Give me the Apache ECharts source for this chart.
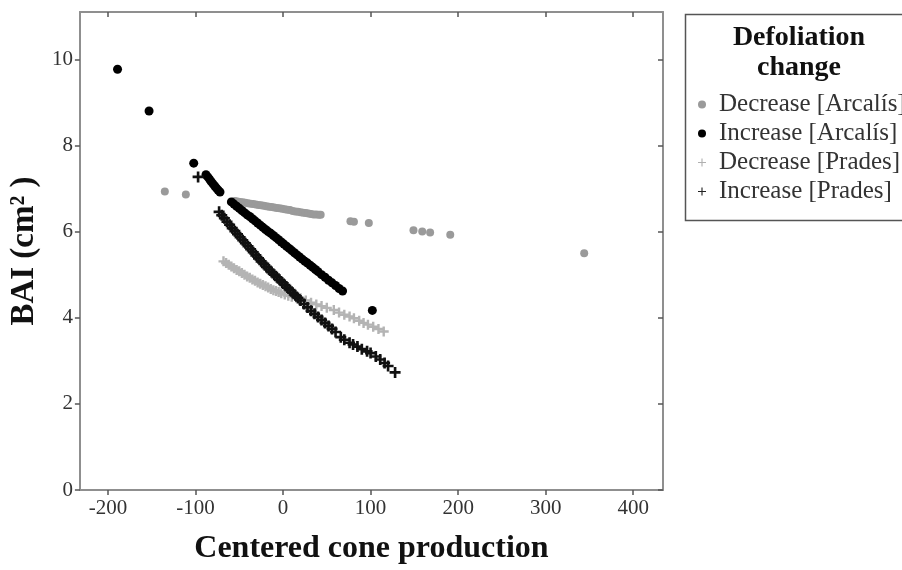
<!DOCTYPE html>
<html>
<head>
<meta charset="utf-8">
<script src="https://cdn.jsdelivr.net/npm/echarts@6/dist/echarts.min.js"></script>
<style>
  html, body { margin: 0; padding: 0; background: #fff; }
  #chart { width: 902px; height: 570px; }
</style>
</head>
<body>
<div id="chart"></div>
<script>
// Basal area increment against centered cone production, by defoliation change and site

const xTicks = [-200, -100, 0, 100, 200, 300, 400];
const yTicks = [0, 2, 4, 6, 8, 10];

const seriesNames = [
  'Decrease [Arcalís]',
  'Increase [Arcalís]',
  'Decrease [Prades]',
  'Increase [Prades]'
];

// [centered cone production, BAI]
const decreaseArcalis = [
  [-135, 6.93], [-111, 6.86],
  [-55, 6.71], [-52, 6.70], [-49, 6.69], [-46, 6.68], [-43, 6.67], [-40, 6.66],
  [-37, 6.65], [-34, 6.64], [-31, 6.63], [-28, 6.62], [-25, 6.61], [-22, 6.60],
  [-19, 6.59], [-16, 6.58], [-13, 6.57], [-10, 6.56], [-7, 6.55], [-4, 6.54],
  [-1, 6.53], [2, 6.52], [5, 6.51], [8, 6.50], [11, 6.48], [14, 6.47],
  [17, 6.46], [20, 6.45], [23, 6.44], [26, 6.43], [29, 6.42], [32, 6.41],
  [35, 6.40], [38, 6.40], [41, 6.39], [43, 6.39],
  [77, 6.24], [81, 6.23], [98, 6.20],
  [149, 6.03], [159, 6.00], [168, 5.98], [191, 5.93],
  [344, 5.50]
];

const increaseArcalis = [
  [-189, 9.77], [-153, 8.80], [-102, 7.59],
  [-88, 7.32], [-86, 7.27], [-84, 7.22], [-82, 7.16], [-80, 7.11],
  [-78, 7.06], [-76, 7.01], [-74, 6.96], [-72, 6.92],
  [-59, 6.69], [-56, 6.64], [-53, 6.59], [-50, 6.54], [-47, 6.49], [-44, 6.44],
  [-41, 6.39], [-38, 6.35], [-35, 6.30], [-32, 6.25], [-29, 6.20], [-26, 6.15],
  [-23, 6.10], [-20, 6.05], [-17, 6.00], [-14, 5.96], [-11, 5.91], [-8, 5.86],
  [-5, 5.81], [-2, 5.76], [1, 5.71], [4, 5.66], [7, 5.61], [10, 5.56],
  [13, 5.51], [16, 5.46], [19, 5.41], [22, 5.36], [25, 5.31], [28, 5.27],
  [31, 5.22], [34, 5.17], [37, 5.12], [40, 5.07], [44, 5.00], [48, 4.94],
  [52, 4.87], [56, 4.81], [60, 4.75], [64, 4.68], [68, 4.62],
  [102, 4.17]
];

const decreasePrades = [
  [-68, 5.31], [-65, 5.27], [-62, 5.23], [-59, 5.19], [-56, 5.15], [-53, 5.11],
  [-50, 5.08], [-47, 5.04], [-44, 5.00], [-41, 4.96], [-38, 4.93], [-35, 4.89],
  [-32, 4.86], [-29, 4.82], [-26, 4.79], [-23, 4.76], [-20, 4.73], [-17, 4.70],
  [-14, 4.67], [-11, 4.64], [-8, 4.62], [-5, 4.60], [-2, 4.57], [2, 4.54],
  [6, 4.51], [10, 4.49], [15, 4.47], [20, 4.45], [26, 4.40], [32, 4.35],
  [38, 4.31], [44, 4.27], [50, 4.23], [58, 4.18], [64, 4.12], [70, 4.07],
  [76, 4.03], [81, 3.99], [87, 3.93], [92, 3.88], [97, 3.84], [103, 3.79],
  [109, 3.74], [115, 3.68]
];

const increasePrades = [
  [-97, 7.27],
  [-73, 6.46], [-70, 6.38], [-67, 6.31], [-64, 6.23], [-61, 6.16], [-58, 6.08],
  [-55, 6.01], [-52, 5.94], [-49, 5.87], [-46, 5.80], [-43, 5.73], [-40, 5.66],
  [-37, 5.59], [-34, 5.52], [-31, 5.45], [-28, 5.38], [-25, 5.31], [-22, 5.25],
  [-19, 5.18], [-16, 5.12], [-13, 5.06], [-10, 5.00], [-7, 4.94], [-4, 4.88],
  [-1, 4.82], [2, 4.76], [5, 4.70], [8, 4.64], [11, 4.58], [14, 4.52],
  [17, 4.46], [20, 4.40], [24, 4.32], [28, 4.24], [32, 4.16], [36, 4.09],
  [40, 4.02], [44, 3.95], [48, 3.88], [52, 3.81], [56, 3.74], [60, 3.67],
  [66, 3.55], [70, 3.49], [76, 3.42], [80, 3.38], [85, 3.33], [90, 3.27],
  [96, 3.22], [100, 3.18], [106, 3.10], [111, 3.03], [116, 2.95], [120, 2.88],
  [128, 2.73]
];

// plus-shaped markers for the Prades series (heavier one in the plot, lighter one in the legend)
const PLUS = 'path://M3.8,0H6.2V3.8H10V6.2H6.2V10H3.8V6.2H0V3.8H3.8Z';
const PLUS_THIN = 'path://M4.3,0H5.7V4.3H10V5.7H5.7V10H4.3V5.7H0V4.3H4.3Z';
const SERIF = '"Liberation Serif", "DejaVu Serif", serif';
const X_MIN = -232, X_MAX = 434, Y_MIN = 0, Y_MAX = 11.1;

function axisLine() {
  return { show: true, onZero: false, lineStyle: { color: '#8f8f8f', width: 2 } };
}
function ticks(values, inside) {
  return { show: true, inside: inside, customValues: values, length: 5,
           lineStyle: { color: '#555', width: 1.5 } };
}

const chart = echarts.init(document.getElementById('chart'), null, { renderer: 'canvas' });

function scatter(name, data, symbol, size, color) {
  return {
    name: name,
    type: 'scatter',
    data: data,
    symbol: symbol,
    symbolSize: size,
    itemStyle: { color: color, opacity: 1 },
    emphasis: { disabled: true },
    animation: false
  };
}

const option = {
  backgroundColor: '#ffffff',
  animation: false,
  grid: { left: 77, right: 239, top: 12, bottom: 79 },
  xAxis: [
    {
      type: 'value', min: X_MIN, max: X_MAX, position: 'bottom',
      name: 'Centered cone production', nameLocation: 'middle', nameGap: 43,
      nameTextStyle: { fontFamily: SERIF, fontWeight: 'bold', fontSize: 32, color: '#111' },
      axisLine: axisLine(),
      axisTick: ticks(xTicks, false),
      axisLabel: { customValues: xTicks, fontFamily: SERIF, fontSize: 21, color: '#333', margin: 8 },
      splitLine: { show: false }
    },
    {
      type: 'value', min: X_MIN, max: X_MAX, position: 'top',
      axisLine: axisLine(),
      axisTick: ticks(xTicks, true),
      axisLabel: { show: false },
      splitLine: { show: false }
    }
  ],
  yAxis: [
    {
      type: 'value', min: Y_MIN, max: Y_MAX, position: 'left',
      name: 'BAI (cm² )', nameLocation: 'middle', nameGap: 33, nameRotate: 90,
      nameTextStyle: { fontFamily: SERIF, fontWeight: 'bold', fontSize: 33, color: '#111' },
      axisLine: axisLine(),
      axisTick: ticks(yTicks, false),
      axisLabel: { customValues: yTicks, fontFamily: SERIF, fontSize: 21, color: '#333', margin: 7 },
      splitLine: { show: false }
    },
    {
      type: 'value', min: Y_MIN, max: Y_MAX, position: 'right',
      axisLine: axisLine(),
      axisTick: ticks(yTicks, true),
      axisLabel: { show: false },
      splitLine: { show: false }
    }
  ],
  legend: {
    orient: 'vertical',
    left: 693,
    top: 87,
    itemGap: 4,
    itemWidth: 24,
    itemHeight: 8,
    symbolKeepAspect: true,
    selectedMode: false,
    textStyle: { fontFamily: SERIF, fontSize: 25, color: '#333', lineHeight: 24 },
    data: [
      { name: seriesNames[0], icon: 'circle', itemStyle: { color: '#9a9a9a' } },
      { name: seriesNames[1], icon: 'circle', itemStyle: { color: '#000' } },
      { name: seriesNames[2], icon: PLUS_THIN, itemStyle: { color: '#b0b0b0' } },
      { name: seriesNames[3], icon: PLUS_THIN, itemStyle: { color: '#222' } }
    ]
  },
  graphic: [
    {
      type: 'rect', left: 683, top: 12, z: 0,
      shape: { width: 240, height: 206 },
      style: { fill: 'none', stroke: '#555', lineWidth: 1.5 }
    },
    {
      type: 'text', x: 799, y: 23, z: 1,
      style: {
        text: 'Defoliation\nchange',
        align: 'center', verticalAlign: 'top',
        font: 'bold 28px "Liberation Serif", serif',
        lineHeight: 30, fill: '#111'
      }
    }
  ],
  series: [
    scatter(seriesNames[0], decreaseArcalis, 'circle', 8, '#9a9a9a'),
    scatter(seriesNames[1], increaseArcalis, 'circle', 9, '#000000'),
    scatter(seriesNames[2], decreasePrades, PLUS, 10, '#b4b4b4'),
    scatter(seriesNames[3], increasePrades, PLUS, 11, '#111111')
  ]
};

chart.setOption(option);
</script>
</body>
</html>
